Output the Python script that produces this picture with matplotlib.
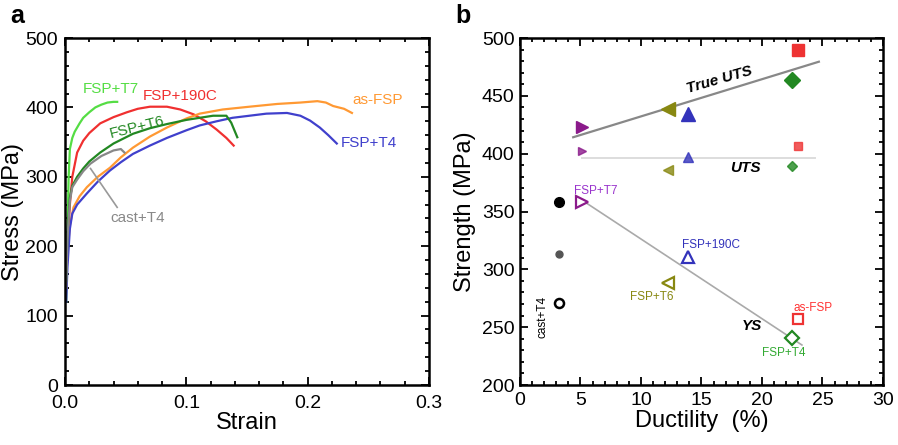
import numpy as np
import matplotlib
matplotlib.use("Agg")
import matplotlib.pyplot as plt
from matplotlib.ticker import MultipleLocator

plt.rcParams['font.family'] = ['Liberation Sans', 'DejaVu Sans']

# --------------------------------------------------
# Panel a: stress-strain curves (strain, stress MPa)
# --------------------------------------------------
t7_strain = [0.001, 0.002, 0.003, 0.004, 0.006, 0.008, 0.012, 0.015, 0.02, 0.025, 0.03, 0.035, 0.04, 0.043]
t7_stress = [120, 220, 300, 340, 356, 365, 377, 385, 393, 400, 404, 407, 408, 408]

c190_strain = [0.001, 0.002, 0.004, 0.006, 0.01, 0.015, 0.02, 0.029, 0.04, 0.051, 0.06, 0.07, 0.084, 0.095, 0.106, 0.116, 0.125, 0.133, 0.139]
c190_stress = [140, 200, 260, 300, 335, 352, 363, 377, 386, 393, 398, 401, 401, 397, 390, 380, 368, 356, 345]

t6_strain = [0.001, 0.002, 0.004, 0.006, 0.01, 0.015, 0.02, 0.029, 0.04, 0.056, 0.07, 0.084, 0.1, 0.111, 0.122, 0.133, 0.137, 0.142]
t6_stress = [150, 220, 270, 287, 300, 312, 322, 335, 348, 362, 370, 376, 382, 385, 388, 388, 378, 357]

cast_strain = [0.001, 0.002, 0.004, 0.006, 0.01, 0.015, 0.021, 0.03, 0.04, 0.046, 0.049]
cast_stress = [140, 210, 265, 285, 296, 308, 319, 330, 338, 340, 335]

asfsp_strain = [0.001, 0.002, 0.004, 0.007, 0.012, 0.018, 0.027, 0.037, 0.046, 0.056, 0.07, 0.084, 0.1, 0.111, 0.13, 0.152, 0.175, 0.194, 0.208, 0.215, 0.221, 0.23, 0.2365]
asfsp_stress = [150, 190, 230, 256, 272, 285, 300, 313, 328, 342, 358, 371, 384, 391, 397, 401, 405, 407, 409, 407, 402, 398, 392]

t4_strain = [0.001, 0.002, 0.004, 0.006, 0.01, 0.018, 0.027, 0.037, 0.046, 0.056, 0.07, 0.084, 0.1, 0.111, 0.125, 0.138, 0.152, 0.166, 0.183, 0.194, 0.202, 0.21, 0.217, 0.224]
t4_stress = [120, 170, 225, 247, 260, 276, 293, 309, 321, 333, 345, 356, 367, 374, 380, 385, 388, 391, 392, 388, 381, 371, 360, 348]

# --------------------------------------------------
# Panel b: strength vs ductility
# --------------------------------------------------
names = ['FSP+T7', 'FSP+T6', 'FSP+190C', 'FSP+T4', 'as-FSP']
ductility = [5.1, 12.26, 13.9, 22.5, 23.0]
true_uts = [423, 439, 434, 464, 489.6]
uts = [402, 386, 397, 389, 407]
ys = [358.5, 288.4, 311, 241, 257]

cast_ductility = 3.2
cast_true_uts = 358
cast_uts = 313
cast_ys = 270.6

true_uts_line_x = [4.4, 24.7]
true_uts_line_y = [414.2, 479.5]
uts_line_x = [5.1, 24.4]
uts_line_y = [396.6, 396.6]
ys_line_x = [5.1, 23.3]
ys_line_y = [360, 234.6]

fig = plt.figure(figsize=(8.98, 4.45), dpi=100)
ax1 = fig.add_axes([0.0724, 0.1348, 0.4053, 0.7798])
ax2 = fig.add_axes([0.579, 0.1348, 0.4043, 0.7798])

# --- panel a
ax1.plot(t7_strain, t7_stress, color='#55dd44', lw=1.6)
ax1.plot(c190_strain, c190_stress, color='#f03030', lw=1.6)
ax1.plot(asfsp_strain, asfsp_stress, color='#ff9933', lw=1.6)
ax1.plot(t4_strain, t4_stress, color='#4040cc', lw=1.6)
ax1.plot(t6_strain, t6_stress, color='#228822', lw=1.6)
ax1.plot(cast_strain, cast_stress, color='#888888', lw=1.6)

ax1.text(0.015, 427, 'FSP+T7', color='#55dd44', fontsize=11, va='center')
ax1.text(0.064, 417, 'FSP+190C', color='#f03030', fontsize=11, va='center')
ax1.text(0.059, 372, 'FSP+T6', color='#228822', fontsize=11, va='center', ha='center', rotation=14)
ax1.text(0.2365, 410, 'as-FSP', color='#ff9933', fontsize=11, va='center')
ax1.text(0.227, 348, 'FSP+T4', color='#4040cc', fontsize=11, va='center')
ax1.text(0.037, 240, 'cast+T4', color='#888888', fontsize=11, va='center')
ax1.plot([0.021, 0.043], [312, 256], color='#999999', lw=1.2)

ax1.set_xlim(0, 0.3)
ax1.set_ylim(0, 500)
ax1.xaxis.set_major_locator(MultipleLocator(0.1))
ax1.xaxis.set_minor_locator(MultipleLocator(0.02))
ax1.yaxis.set_major_locator(MultipleLocator(100))
ax1.yaxis.set_minor_locator(MultipleLocator(20))
ax1.set_xticks([0, 0.1, 0.2, 0.3])
ax1.set_xticklabels(['0.0', '0.1', '0.2', '0.3'])
ax1.set_xlabel('Strain', fontsize=17, labelpad=0)
ax1.set_ylabel('Stress (MPa)', fontsize=17, labelpad=1)

# --- panel b
ax2.plot(true_uts_line_x, true_uts_line_y, color='#888888', lw=1.6, zorder=1)
ax2.plot(uts_line_x, uts_line_y, color='#dddddd', lw=1.4, zorder=1)
ax2.plot(ys_line_x, ys_line_y, color='#aaaaaa', lw=1.2, zorder=1)

markers = ['>', '<', '^', 'D', 's']
colors = ['#8b1a8b', '#888811', '#3333bb', '#228822', '#ee3333']
big_sizes = [9, 10, 10, 8, 8]
for i in range(len(names)):
    ax2.plot(ductility[i], true_uts[i], marker=markers[i], color=colors[i],
             ms=big_sizes[i], ls='none', zorder=3)
    ax2.plot(ductility[i], uts[i], marker=markers[i], color=colors[i],
             ms=big_sizes[i] * 0.65, ls='none', zorder=3, alpha=0.8)
    ax2.plot(ductility[i], ys[i], marker=markers[i], color=colors[i],
             ms=big_sizes[i] * 0.9, mfc='white', mew=1.6, ls='none', zorder=3)

ax2.plot(cast_ductility, cast_true_uts, 'o', color='black', ms=7)
ax2.plot(cast_ductility, cast_uts, 'o', color='#555555', ms=5)
ax2.plot(cast_ductility, cast_ys, 'o', color='black', mfc='white', mew=1.8, ms=6.5)

ax2.text(16.5, 464, 'True UTS', fontsize=11, fontweight='bold', style='italic',
         rotation=16, ha='center', va='center')
ax2.text(18.6, 388, 'UTS', fontsize=11, fontweight='bold', style='italic',
         ha='center', va='center')
ax2.text(19.15, 251, 'YS', fontsize=11, fontweight='bold', style='italic',
         ha='center', va='center')

label_x = [6.3, 10.9, 15.8, 21.8, 24.2]
label_y = [368, 276, 321, 228, 267]
label_colors = ['#9933cc', '#888811', '#3333bb', '#33aa33', '#ff3333']
for i in range(len(names)):
    ax2.text(label_x[i], label_y[i], names[i], color=label_colors[i], fontsize=8.5,
             ha='center', va='center')
ax2.text(1.9, 259, 'cast+T4', color='black', fontsize=8.5, rotation=90,
         ha='center', va='center')

ax2.set_xlim(0, 30)
ax2.set_ylim(200, 500)
ax2.xaxis.set_major_locator(MultipleLocator(5))
ax2.xaxis.set_minor_locator(MultipleLocator(1))
ax2.yaxis.set_major_locator(MultipleLocator(50))
ax2.yaxis.set_minor_locator(MultipleLocator(10))
ax2.set_xlabel('Ductility  (%)', fontsize=17, labelpad=1)
ax2.set_ylabel('Strength (MPa)', fontsize=17, labelpad=4)

for ax in (ax1, ax2):
    for s in ax.spines.values():
        s.set_linewidth(1.8)
    ax.tick_params(which='both', direction='in', top=True, right=True,
                   labelsize=14, width=1.3)
    ax.tick_params(which='major', length=6)
    ax.tick_params(which='minor', length=3)
    ax.tick_params(axis='x', which='major', pad=5)
    ax.tick_params(axis='y', which='major', pad=4)
ax1.tick_params(axis='y', which='major', pad=5)
ax1.tick_params(axis='x', which='major', pad=7)

fig.text(0.011, 0.963, 'a', fontsize=18, fontweight='bold', va='center')
fig.text(0.507, 0.963, 'b', fontsize=18, fontweight='bold', va='center')

fig.savefig('out.png', dpi=100)
